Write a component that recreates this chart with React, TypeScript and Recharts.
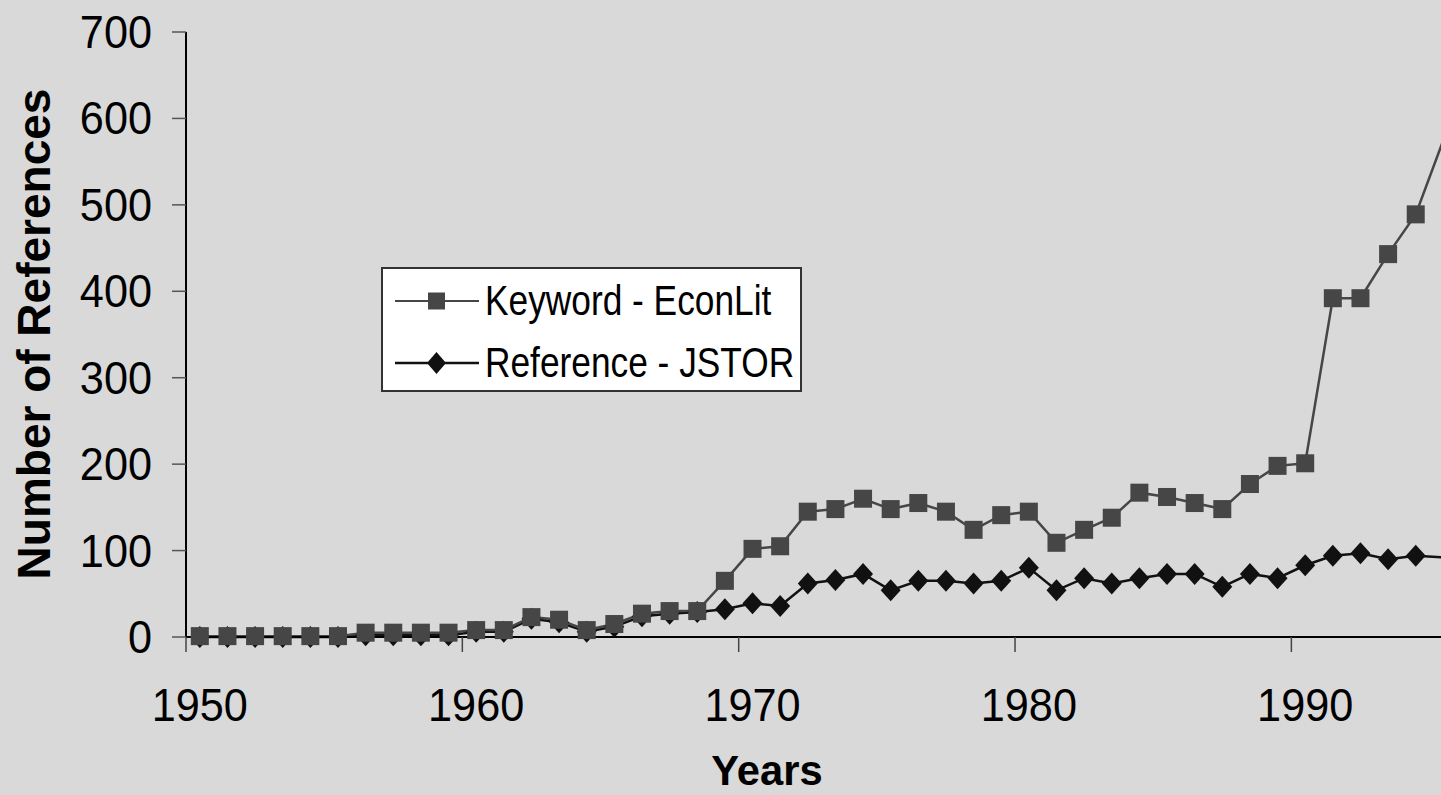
import { LineChart, Line, XAxis, YAxis, Label } from 'recharts';

const years = [
  1950, 1951, 1952, 1953, 1954, 1955, 1956, 1957, 1958, 1959,
  1960, 1961, 1962, 1963, 1964, 1965, 1966, 1967, 1968, 1969,
  1970, 1971, 1972, 1973, 1974, 1975, 1976, 1977, 1978, 1979,
  1980, 1981, 1982, 1983, 1984, 1985, 1986, 1987, 1988, 1989,
  1990, 1991, 1992, 1993, 1994, 1995,
];

// Keyword - EconLit
const keywordEconLit = [
  1, 1, 1, 1, 1, 1, 5, 5, 5, 5,
  8, 8, 23, 20, 8, 15, 27, 30, 30, 65,
  102, 105, 145, 148, 160, 148, 155, 145, 124, 141,
  145, 109, 124, 138, 167, 162, 155, 148, 177, 198,
  201, 392, 392, 443, 489, 575,
];

// Reference - JSTOR
const referenceJstor = [
  0, 0, 0, 0, 0, 0, 2, 2, 2, 2,
  6, 6, 21, 17, 6, 12, 24, 27, 29, 32,
  39, 36, 62, 66, 73, 54, 65, 65, 62, 65,
  80, 54, 68, 62, 68, 73, 73, 58, 73, 68,
  83, 94, 97, 90, 94, 92,
];

const yTicks = [0, 100, 200, 300, 400, 500, 600, 700];
const xTicks = [1950, 1960, 1970, 1980, 1990];

const data = years.map((year, i) => ({
  year,
  keyword: keywordEconLit[i],
  jstor: referenceJstor[i],
}));

const FONT = '"Liberation Sans", Arial, Helvetica, sans-serif';
const BG = '#d9d9d9';
const KEY_COLOR = '#464646';
const JSTOR_COLOR = '#111111';

const VIEW_W = 1441;
const VIEW_H = 795;
const CHART_W = 1472;
const CHART_H = 795;
const Y_AXIS_W = 186;
const MARGIN_TOP = 32;
const MARGIN_RIGHT = 1;
const X_AXIS_H = 158;
const X_MIN = 1950;
const X_MAX = 1996.5;
const PX_PER_YEAR = (CHART_W - MARGIN_RIGHT - Y_AXIS_W) / (X_MAX - X_MIN);

const YTick = (props: any) => {
  const { x, y, payload } = props;
  return (
    <text
      transform={`translate(${x},${y + 16}) scale(0.94,1)`}
      textAnchor="end"
      fontSize={46}
      fontFamily={FONT}
      fill="#000"
    >
      {payload.value}
    </text>
  );
};

const XTick = (props: any) => {
  const { x, y, payload } = props;
  return (
    <text
      transform={`translate(${x + PX_PER_YEAR / 2},${y + 33}) scale(0.94,1)`}
      textAnchor="middle"
      fontSize={46}
      fontFamily={FONT}
      fill="#000"
    >
      {payload.value}
    </text>
  );
};

// markers that would be cut by the right edge of the frame are not drawn
const SquareDot = (props: any) => {
  const { cx, cy, index } = props;
  if (cx == null || cy == null || cx + 9 > VIEW_W) return null;
  return <rect key={`sq-${index}`} x={cx - 9} y={cy - 9} width={18} height={18} fill={KEY_COLOR} />;
};

const DiamondDot = (props: any) => {
  const { cx, cy, index } = props;
  if (cx == null || cy == null || cx + 10 > VIEW_W) return null;
  return (
    <polygon
      key={`dm-${index}`}
      points={`${cx},${cy - 11} ${cx + 10},${cy} ${cx},${cy + 11} ${cx - 10},${cy}`}
      fill={JSTOR_COLOR}
    />
  );
};

const YTitle = () => (
  <text
    transform="translate(50,334) rotate(-90)"
    textAnchor="middle"
    fontSize={46}
    fontWeight="bold"
    fontFamily={FONT}
    fill="#000"
  >
    Number of References
  </text>
);

const XTitle = () => (
  <text
    transform="translate(767,785) scale(0.97,1)"
    textAnchor="middle"
    fontSize={43}
    fontWeight="bold"
    fontFamily={FONT}
    fill="#000"
  >
    Years
  </text>
);

function LegendBox() {
  const rows = [
    { label: 'Keyword - EconLit', color: KEY_COLOR, square: true, top: 11 },
    { label: 'Reference - JSTOR', color: JSTOR_COLOR, square: false, top: 73 },
  ];
  return (
    <div
      style={{
        position: 'absolute',
        left: 381,
        top: 267,
        width: 421,
        height: 125,
        boxSizing: 'border-box',
        background: '#fff',
        border: '2px solid #333',
        fontFamily: FONT,
      }}
    >
      {rows.map((r) => (
        <div key={r.label} style={{ position: 'absolute', left: 0, top: r.top, height: 42, width: 417 }}>
          <svg width={84} height={24} style={{ position: 'absolute', left: 12, top: 9 }}>
            <line x1={0} y1={12} x2={84} y2={12} stroke={r.color} strokeWidth={r.square ? 2 : 2.5} />
            {r.square ? (
              <rect x={33} y={3.5} width={17} height={17} fill={r.color} />
            ) : (
              <polygon points="41.5,1 51,12 41.5,23 32,12" fill={r.color} />
            )}
          </svg>
          <div
            style={{
              position: 'absolute',
              left: 102,
              top: 0,
              fontSize: 42,
              lineHeight: '42px',
              whiteSpace: 'nowrap',
              transform: 'scale(0.84,1)',
              transformOrigin: 'left center',
              color: '#000',
            }}
          >
            {r.label}
          </div>
        </div>
      ))}
    </div>
  );
}

export default function App() {
  return (
    <div
      style={{
        position: 'fixed',
        left: 0,
        top: 0,
        width: VIEW_W,
        height: VIEW_H,
        overflow: 'hidden',
        background: BG,
      }}
    >
      <LineChart
        width={CHART_W}
        height={CHART_H}
        data={data}
        margin={{ top: MARGIN_TOP, right: MARGIN_RIGHT, left: 0, bottom: 0 }}
      >
        <XAxis
          type="number"
          dataKey={(d: any) => d.year + 0.5}
          domain={[X_MIN, X_MAX]}
          ticks={xTicks}
          interval={0}
          height={X_AXIS_H}
          tickSize={15}
          tickMargin={36}
          tick={<XTick />}
          axisLine={{ stroke: '#000', strokeWidth: 2 }}
          tickLine={{ stroke: '#444', strokeWidth: 1.5 }}
        >
          <Label content={<XTitle />} />
        </XAxis>
        <YAxis
          type="number"
          domain={[0, 700]}
          ticks={yTicks}
          interval={0}
          width={Y_AXIS_W}
          tickSize={14}
          tickMargin={20}
          tick={<YTick />}
          axisLine={{ stroke: '#000', strokeWidth: 2 }}
          tickLine={{ stroke: '#555', strokeWidth: 1.5 }}
        >
          <Label content={<YTitle />} />
        </YAxis>
        <Line
          type="linear"
          dataKey="jstor"
          name="Reference - JSTOR"
          stroke={JSTOR_COLOR}
          strokeWidth={2.5}
          dot={DiamondDot}
          activeDot={false}
          isAnimationActive={false}
        />
        <Line
          type="linear"
          dataKey="keyword"
          name="Keyword - EconLit"
          stroke={KEY_COLOR}
          strokeWidth={2.5}
          dot={SquareDot}
          activeDot={false}
          isAnimationActive={false}
        />
      </LineChart>
      <LegendBox />
    </div>
  );
}
